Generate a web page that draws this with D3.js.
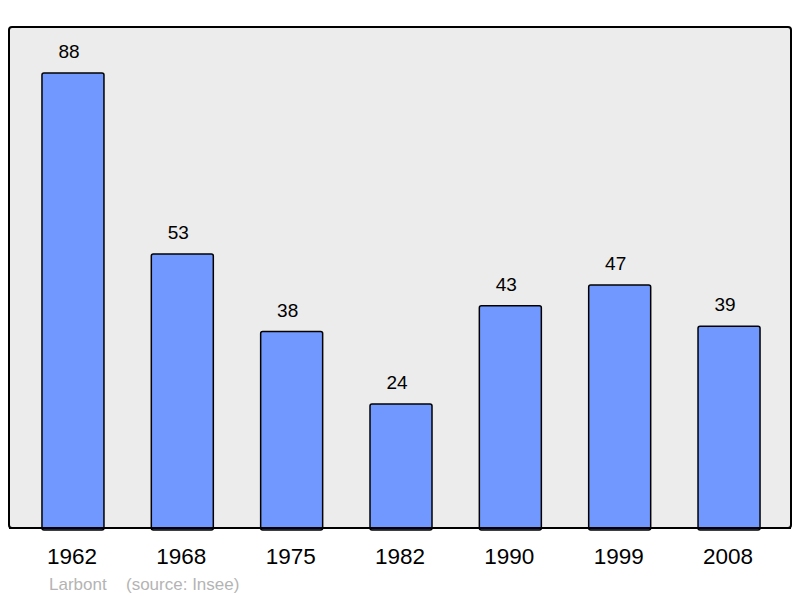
<!doctype html>
<html>
<head>
<meta charset="utf-8">
<title>Larbont population</title>
<script src="https://cdnjs.cloudflare.com/ajax/libs/d3/7.8.5/d3.min.js"></script>
<style>
  body { margin: 0; background: #fff; }
  text { font-family: "Liberation Sans", Arial, sans-serif; }
</style>
</head>
<body>
<div id="chart"></div>
<script>
var years = ["1962", "1968", "1975", "1982", "1990", "1999", "2008"];
var population = [88, 53, 38, 24, 43, 47, 39];

var width = 800, height = 598;
var panel = {left: 9, top: 27, right: 791, bottom: 528};

var svg = d3.select("#chart").append("svg")
    .attr("width", width)
    .attr("height", height);

// background panel
svg.append("rect")
    .attr("x", panel.left)
    .attr("y", panel.top)
    .attr("width", panel.right - panel.left)
    .attr("height", panel.bottom - panel.top)
    .attr("rx", 3)
    .attr("fill", "#ececec")
    .attr("stroke", "#000")
    .attr("stroke-width", 2);

var x = d3.scaleBand()
    .domain(years)
    .range([18.3, 783.7]);

var barW = 62;

var y = d3.scaleLinear()
    .domain([0, 88])
    .range([panel.bottom, 73]);

var data = years.map(function (yr, i) { return {year: yr, value: population[i]}; });

svg.selectAll("rect.bar")
    .data(data)
  .enter().append("rect")
    .attr("class", "bar")
    .attr("x", function (d) { return x(d.year) + x.bandwidth() / 2 - barW / 2; })
    .attr("y", function (d) { return y(d.value); })
    .attr("width", barW)
    .attr("height", function (d) { return panel.bottom - y(d.value) + 2; })
    .attr("rx", 2)
    .attr("fill", "#7098ff")
    .attr("stroke", "#000")
    .attr("stroke-width", 1.5);

// redraw bottom edge so it sits above bars
svg.append("line")
    .attr("x1", panel.left)
    .attr("x2", panel.right)
    .attr("y1", panel.bottom)
    .attr("y2", panel.bottom)
    .attr("stroke", "#000")
    .attr("stroke-width", 2);

svg.selectAll("text.val")
    .data(data)
  .enter().append("text")
    .attr("class", "val")
    .attr("x", function (d) { return x(d.year) + x.bandwidth() / 2 - 4; })
    .attr("y", function (d) { return y(d.value) - 15; })
    .attr("text-anchor", "middle")
    .style("font-size", "19px")
    .attr("fill", "#000")
    .text(function (d) { return d.value; });

svg.selectAll("text.year")
    .data(data)
  .enter().append("text")
    .attr("class", "year")
    .attr("x", function (d) { return x(d.year) + x.bandwidth() / 2 - 1; })
    .attr("y", 564)
    .attr("text-anchor", "middle")
    .style("font-size", "22.5px")
    .attr("fill", "#000")
    .text(function (d) { return d.year; });

svg.append("text")
    .attr("x", 49)
    .attr("y", 590)
    .style("font-size", "17px")
    .attr("fill", "#b4b4b4")
    .text("Larbont");

svg.append("text")
    .attr("x", 126)
    .attr("y", 590)
    .style("font-size", "17px")
    .attr("fill", "#b4b4b4")
    .text("(source: Insee)");
</script>
</body>
</html>
